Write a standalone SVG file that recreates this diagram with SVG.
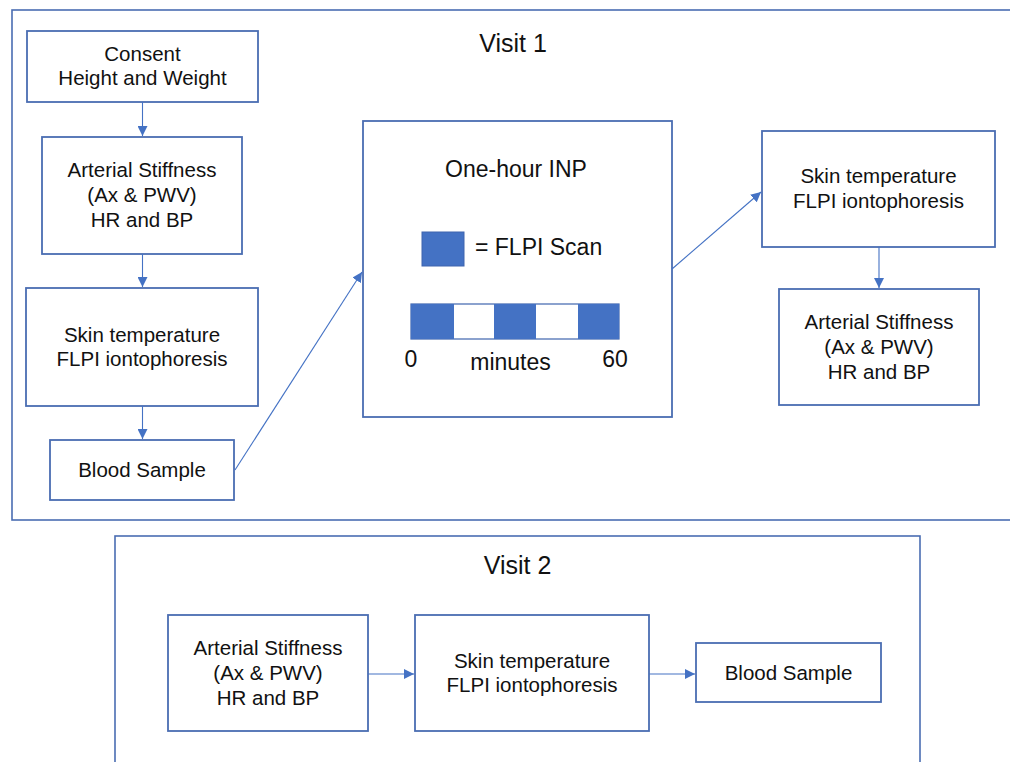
<svg xmlns="http://www.w3.org/2000/svg" width="1010" height="762" viewBox="0 0 1010 762">
<style>
.box{fill:#fff;stroke:#4A6DB2;stroke-width:1.8}
.frame{fill:none;stroke:#4A6DB2;stroke-width:1.6}
.t{font-family:"Liberation Sans",Arial,sans-serif;font-size:20.5px;fill:#111;text-anchor:middle}
.tb{font-family:"Liberation Sans",Arial,sans-serif;font-size:23px;fill:#111;text-anchor:middle}
.title{font-family:"Liberation Sans",Arial,sans-serif;font-size:25px;fill:#111;text-anchor:middle}
.conn{stroke:#4472C4;stroke-width:1.1;fill:none;marker-end:url(#ah)}
.blue{fill:#4472C4}
</style>
<defs>
<marker id="ah" viewBox="0 0 10 10" refX="10" refY="5" markerWidth="10" markerHeight="10" markerUnits="userSpaceOnUse" orient="auto">
<path d="M0,0 L10,5 L0,10 z" fill="#4472C4"/>
</marker>
</defs>
<rect width="1010" height="762" fill="#fff"/>
<g id="visit1">
<rect class="frame" x="12" y="10" width="1010" height="510"/>
<text class="title" x="513" y="52">Visit 1</text>
</g>
<g id="visit2">
<rect class="frame" x="115" y="536" width="805" height="240"/>
<text class="title" x="517.5" y="574">Visit 2</text>
</g>
<g id="consent">
<rect class="box" x="27" y="31" width="231" height="71"/>
<text class="t" x="142.5" y="61">Consent</text>
<text class="t" x="142.5" y="85">Height and Weight</text>
</g>
<g id="arterial1">
<rect class="box" x="42" y="137" width="200" height="117"/>
<text class="t" x="142" y="177">Arterial Stiffness</text>
<text class="t" x="142" y="202">(Ax &amp; PWV)</text>
<text class="t" x="142" y="227">HR and BP</text>
</g>
<g id="skin1">
<rect class="box" x="26" y="288" width="232" height="118"/>
<text class="t" x="142" y="342">Skin temperature</text>
<text class="t" x="142" y="366">FLPI iontophoresis</text>
</g>
<g id="blood1">
<rect class="box" x="50" y="440" width="184" height="60"/>
<text class="t" x="142" y="477">Blood Sample</text>
</g>
<g id="inp">
<rect class="box" x="363" y="121" width="309" height="296"/>
<text class="tb" x="516" y="177">One-hour INP</text>
<rect class="blue" x="422" y="232" width="42" height="34" stroke="#3F65AE" stroke-width="1"/>
<text class="tb" x="475" y="255" style="text-anchor:start">= FLPI Scan</text>
<rect x="411" y="304" width="208" height="35" fill="#fff" stroke="#3F65AE" stroke-width="1.2"/>
<rect class="blue" x="411" y="304" width="43" height="35"/>
<rect class="blue" x="494" y="304" width="42" height="35"/>
<rect class="blue" x="578" y="304" width="41" height="35"/>
<text class="tb" x="411" y="367">0</text>
<text class="tb" x="510.5" y="370">minutes</text>
<text class="tb" x="615" y="367">60</text>
</g>
<g id="skin1b">
<rect class="box" x="762" y="131" width="233" height="116"/>
<text class="t" x="878.5" y="183">Skin temperature</text>
<text class="t" x="878.5" y="208">FLPI iontophoresis</text>
</g>
<g id="arterial1b">
<rect class="box" x="779" y="289" width="200" height="116"/>
<text class="t" x="879" y="329">Arterial Stiffness</text>
<text class="t" x="879" y="354">(Ax &amp; PWV)</text>
<text class="t" x="879" y="379">HR and BP</text>
</g>
<g id="arterial2">
<rect class="box" x="168" y="615" width="200" height="116"/>
<text class="t" x="268" y="655">Arterial Stiffness</text>
<text class="t" x="268" y="680">(Ax &amp; PWV)</text>
<text class="t" x="268" y="705">HR and BP</text>
</g>
<g id="skin2">
<rect class="box" x="415" y="615" width="234" height="116"/>
<text class="t" x="532" y="668">Skin temperature</text>
<text class="t" x="532" y="692">FLPI iontophoresis</text>
</g>
<g id="blood2">
<rect class="box" x="696" y="643" width="185" height="59"/>
<text class="t" x="788.5" y="680">Blood Sample</text>
</g>
<g id="connectors">
<line class="conn" x1="142.5" y1="102" x2="142.5" y2="136"/>
<line class="conn" x1="142.5" y1="254" x2="142.5" y2="287"/>
<line class="conn" x1="142.5" y1="406" x2="142.5" y2="439"/>
<line class="conn" x1="235" y1="470" x2="362" y2="272"/>
<line class="conn" x1="672" y1="269" x2="761" y2="192"/>
<line class="conn" x1="879" y1="247" x2="879" y2="288"/>
<line class="conn" x1="368" y1="674" x2="414" y2="674"/>
<line class="conn" x1="649" y1="674" x2="695" y2="674"/>
</g>
</svg>
